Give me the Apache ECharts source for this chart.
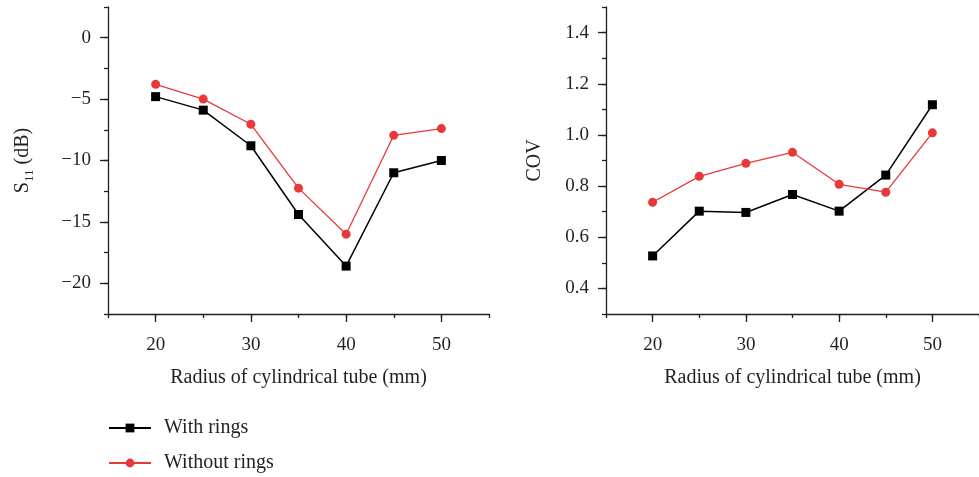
<!DOCTYPE html>
<html>
<head>
<meta charset="utf-8">
<script src="https://cdn.jsdelivr.net/npm/echarts@6/dist/echarts.min.js"></script>
<style>
  html, body { margin: 0; padding: 0; background: #fff; }
  #chart { width: 979px; height: 477px; }
</style>
</head>
<body>
<div id="chart"></div>
<script>
// 横轴: 圆柱管半径 (mm)
var radius = [20, 25, 30, 35, 40, 45, 50];
// 左图 S11 (dB)
var s11WithRings = [-4.8, -5.9, -8.8, -14.4, -18.6, -11.0, -10.0];
var s11WithoutRings = [-3.8, -5.0, -7.05, -12.25, -16.0, -7.95, -7.4];
// 右图 COV
var covWithRings = [0.527, 0.702, 0.697, 0.767, 0.702, 0.843, 1.118];
var covWithoutRings = [0.737, 0.838, 0.889, 0.932, 0.807, 0.776, 1.008];
// 刻度
var xMajorTicks = [20, 30, 40, 50];
var s11MajorTicks = [-20, -15, -10, -5, 0];
var covMajorTicks = [0.4, 0.6, 0.8, 1.0, 1.2, 1.4];

var FONT = 'Liberation Serif';
var INK = '#231f20';
var RED = '#e8393a';

function pairs(xs, ys) {
    return xs.map(function (x, i) { return [x, ys[i]]; });
}

var chart = echarts.init(document.getElementById('chart'));

// 主轴：长刻度 + 标签
function majorX(grid) {
    return {
        type: 'value', gridIndex: grid, position: 'bottom', min: 15, max: 55,
        name: 'Radius of cylindrical tube (mm)', nameLocation: 'middle', nameGap: 54,
        nameTextStyle: { fontFamily: FONT, fontSize: 20, color: INK },
        axisLine: { onZero: false, lineStyle: { color: INK, width: 1.3 } },
        axisTick: { customValues: xMajorTicks, length: 8, lineStyle: { color: INK, width: 1.3 } },
        axisLabel: { customValues: xMajorTicks, margin: 22, fontFamily: FONT, fontSize: 19, color: INK },
        splitLine: { show: false }
    };
}
// 次轴：短刻度
function minorX(grid) {
    return {
        type: 'value', gridIndex: grid, position: 'bottom', min: 15, max: 55, interval: 5,
        axisLine: { show: false, onZero: false },
        axisTick: { length: 4, lineStyle: { color: INK, width: 1.3 } },
        axisLabel: { show: false },
        splitLine: { show: false }
    };
}
function majorY(grid, min, max, ticks, name, gap, fmt) {
    return {
        type: 'value', gridIndex: grid, position: 'left', min: min, max: max,
        name: name, nameLocation: 'middle', nameGap: gap,
        nameTextStyle: {
            fontFamily: FONT, fontSize: 20, color: INK, lineHeight: 22,
            rich: {
                m: { fontFamily: FONT, fontSize: 20, color: INK, lineHeight: 26, verticalAlign: 'middle' },
                sub: { fontFamily: FONT, fontSize: 13, color: INK, lineHeight: 13, verticalAlign: 'bottom' }
            }
        },
        axisLine: { onZero: false, lineStyle: { color: INK, width: 1.3 } },
        axisTick: { customValues: ticks, length: 8, lineStyle: { color: INK, width: 1.3 } },
        axisLabel: { customValues: ticks, margin: 17, fontFamily: FONT, fontSize: 19, color: INK, formatter: fmt },
        splitLine: { show: false }
    };
}
function minorY(grid, min, max, step) {
    return {
        type: 'value', gridIndex: grid, position: 'left', min: min, max: max, interval: step,
        axisLine: { show: false, onZero: false },
        axisTick: { length: 4, lineStyle: { color: INK, width: 1.3 } },
        axisLabel: { show: false },
        splitLine: { show: false }
    };
}

function lineSeries(name, xi, yi, data, symbol, color, width) {
    return {
        name: name, type: 'line', xAxisIndex: xi, yAxisIndex: yi,
        data: data, symbol: symbol, symbolSize: 9,
        lineStyle: { color: color, width: width },
        itemStyle: { color: color },
        animation: false
    };
}

var option = {
    backgroundColor: '#fff',
    animation: false,
    grid: [
        { left: 108, top: 7, width: 381, height: 307 },
        { left: 606, top: 7, width: 381, height: 307 }
    ],
    xAxis: [majorX(0), minorX(0), majorX(1), minorX(1)],
    yAxis: [
        majorY(0, -22.5, 2.5, s11MajorTicks, '{m|S}{sub|11}{m| (dB)}', 72,
            function (v) { return v < 0 ? '\u2212' + (-v) : String(v); }),
        minorY(0, -22.5, 2.5, 2.5),
        majorY(1, 0.3, 1.5, covMajorTicks, 'COV', 60,
            function (v) { return v.toFixed(1); }),
        minorY(1, 0.3, 1.5, 0.1)
    ],
    legend: {
        orient: 'vertical', left: 108, top: 418, padding: 0,
        itemWidth: 42, itemHeight: 11, itemGap: 15,
        textStyle: { fontFamily: FONT, fontSize: 20, color: INK, padding: [0, 0, 0, 8] },
        data: ['With rings', 'Without rings']
    },
    series: [
        lineSeries('With rings', 0, 0, pairs(radius, s11WithRings), 'rect', '#000', 1.5),
        lineSeries('Without rings', 0, 0, pairs(radius, s11WithoutRings), 'circle', RED, 1.3),
        lineSeries('With rings', 2, 2, pairs(radius, covWithRings), 'rect', '#000', 1.5),
        lineSeries('Without rings', 2, 2, pairs(radius, covWithoutRings), 'circle', RED, 1.3)
    ]
};

chart.setOption(option);
</script>
</body>
</html>
